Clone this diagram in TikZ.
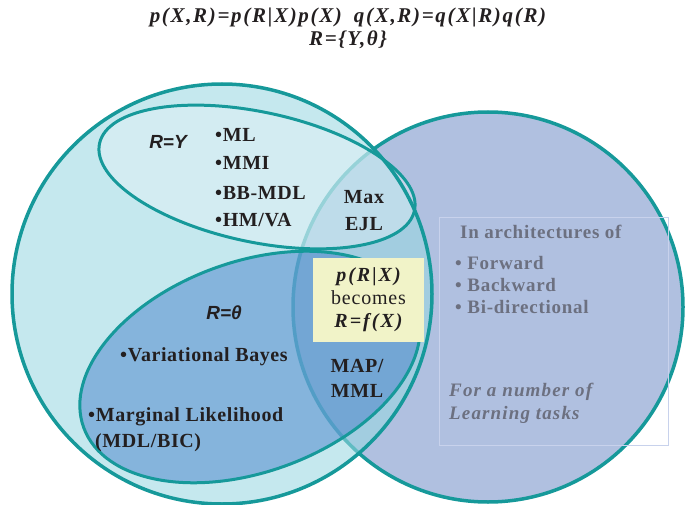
\documentclass[tikz,border=0pt]{standalone}
\usepackage{fontspec}
\setmainfont{Liberation Serif}
\newfontfamily\arialfont{Liberation Sans}
\definecolor{teal}{RGB}{22,153,154}
\definecolor{lavender}{RGB}{176,192,224}
\definecolor{leftfill}{RGB}{153,215,225}
\definecolor{topfill}{RGB}{234,244,250}
\definecolor{lowfill}{RGB}{69,128,202}
\definecolor{ink}{RGB}{35,31,32}
\definecolor{greytxt}{RGB}{108,112,128}
\definecolor{notebox}{RGB}{241,243,200}
\definecolor{framecol}{RGB}{200,210,236}
\newcommand{\spaced}[1]{\addfontfeature{LetterSpace=#1}}
\tikzset{
  setline/.style={draw=teal, line width=3.5pt},
  ellline/.style={draw=teal, line width=3pt},
  itemtxt/.style={font=\fontsize{20}{27}\selectfont\bfseries\spaced{3}, text=ink, inner sep=0pt, anchor=west},
  centertxt/.style={itemtxt, anchor=center, align=center},
  setname/.style={font=\arialfont\fontsize{19}{22}\selectfont\bfseries\itshape, text=ink, inner sep=0pt},
  greyitem/.style={font=\fontsize{19}{22}\selectfont\bfseries\spaced{4}, text=greytxt, inner sep=0pt, anchor=west},
  greyital/.style={greyitem, font=\fontsize{19}{22}\selectfont\bfseries\itshape\spaced{6}},
  formula/.style={font=\fontsize{21}{22}\selectfont\bfseries\itshape\spaced{8}, text=ink, inner sep=0pt},
}
\begin{document}
\begin{tikzpicture}[x=1pt, y=-1pt]
\useasboundingbox (0,0) rectangle (685,505);

% right set (architectures), opaque at the back
\fill[lavender] (488,307) circle[radius=195];
\draw[setline] (488,307) circle[radius=195];

% left set and its two subsets, translucent so the right set shows through
\fill[leftfill, opacity=0.57] (222,294) circle[radius=210];
\fill[topfill, opacity=0.4, rotate around={-12:(257,177)}] (257,177) ellipse[x radius=161, y radius=65];
\fill[lowfill, opacity=0.5, rotate around={20:(250,367)}] (250,367) ellipse[x radius=177, y radius=105];

% outlines
\draw[setline] (222,294) circle[radius=210];
\draw[ellline, rotate around={-12:(257,177)}] (257,177) ellipse[x radius=161, y radius=65];
\draw[ellline, rotate around={20:(250,367)}] (250,367) ellipse[x radius=177, y radius=105];

% frame of the architecture notes
\draw[framecol, line width=0.8pt] (439,217) rectangle (668,445);

% heading formulas
\node[formula] (joint) at (348,17) {p(X,R)=p(R|X)p(X)\hspace{12pt}q(X,R)=q(X|R)q(R)};
\node[formula] (rset) at (348,40) {R=\{Y,θ\}};

% R = Y subset
\node[setname] (ry) at (168,142) {R=Y};
\node[itemtxt] (ml) at (215,135) {•ML};
\node[itemtxt] (mmi) at (215,163) {•MMI};
\node[itemtxt] (bbmdl) at (215,193) {•BB-MDL};
\node[itemtxt] (hmva) at (215,220) {•HM/VA};
\node[centertxt] (maxejl) at (364,211) {Max\\EJL};

% R = theta subset
\node[setname] (rtheta) at (224,313) {R=θ};
\node[itemtxt] (vb) at (120,357) {•Variational Bayes};
\node[itemtxt] (ml2) at (88,417) {•Marginal Likelihood};
\node[itemtxt] (mdl) at (95,443) {(MDL/BIC)};
\node[centertxt, font=\fontsize{20}{25}\selectfont\bfseries\spaced{3}] (mapmml) at (357,378) {MAP/\\MML};

% note box
\node[fill=notebox, minimum width=111pt, minimum height=84pt, inner sep=0pt,
      align=center, text=ink, font=\fontsize{20}{23}\selectfont] (note) at (368.5,300)
  {{\bfseries\itshape\spaced{10}p(R|X)}\\{\spaced{4}becomes}\\{\bfseries\itshape\spaced{10}R=f(X)}};

% architecture notes
\node[greyitem] (arch) at (460,232) {In architectures of};
\node[greyitem] (fwd) at (455,263) {• Forward};
\node[greyitem] (bwd) at (455,285) {• Backward};
\node[greyitem] (bidir) at (455,307) {• Bi-directional};
\node[greyital] (tasks1) at (449,392) {For a number of};
\node[greyital] (tasks2) at (449,415) {Learning tasks};
\end{tikzpicture}
\end{document}
